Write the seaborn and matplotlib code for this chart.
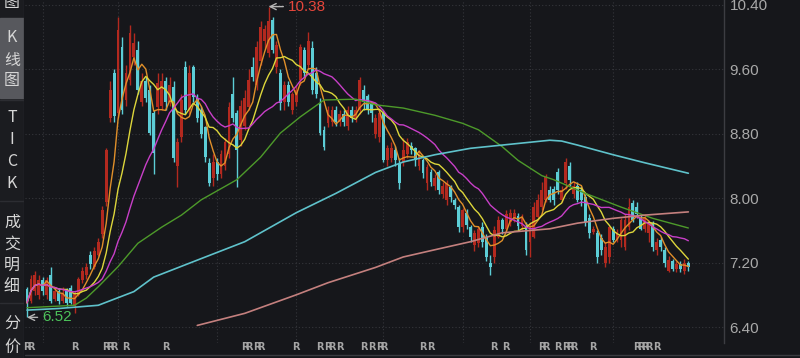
import numpy as np
import pandas as pd
import matplotlib
matplotlib.use('Agg')
import matplotlib.pyplot as plt
from matplotlib.patches import Rectangle
from matplotlib.lines import Line2D
import seaborn as sns

# K线 데이터 (open / high / low / close), 차트에서 눈으로 읽은 값
opens = [6.87, 6.72, 6.85, 6.80, 6.98, 6.80, 7.05, 6.75, 6.85, 6.72, 6.85, 6.88, 6.66, 6.80, 6.98, 7.05,
         7.30, 7.15, 7.30, 7.55, 7.95, 9.00, 9.55, 9.06, 9.88, 9.22, 9.47, 9.75, 9.84, 9.20, 9.45, 9.34,
         9.06, 9.13, 9.15, 9.45, 9.20, 9.38, 8.40, 8.76, 9.63, 9.10, 9.63, 9.25, 9.10, 8.88, 8.44, 8.25,
         8.45, 8.30, 8.40, 8.55, 9.30, 9.06, 8.72, 8.90, 9.13, 9.63, 9.40, 9.70, 9.95, 9.80, 10.21, 9.63,
         9.55, 9.20, 9.40, 9.10, 9.20, 9.47, 9.84, 9.65, 9.86, 9.55, 9.18, 8.85, 8.94, 8.95, 9.10, 8.95,
         9.05, 8.90, 9.10, 9.00, 9.10, 9.35, 9.27, 9.18, 8.80, 8.76, 9.06, 8.47, 8.50, 8.60, 8.44, 8.45,
         8.55, 8.65, 8.62, 8.40, 8.47, 8.19, 8.33, 8.15, 8.33, 8.05, 7.98, 8.14, 7.98, 7.89, 7.64, 7.82,
         7.64, 7.42, 7.44, 7.64, 7.52, 7.20, 7.27, 7.52, 7.73, 7.62, 7.70, 7.75, 7.78, 7.65, 7.64, 7.45,
         7.52, 7.77, 7.89, 7.98, 8.10, 8.12, 8.33, 7.98, 8.19, 8.40, 8.05, 8.15, 8.10, 8.01, 7.76, 7.58,
         7.57, 7.50, 7.20, 7.27, 7.62, 7.48, 7.48, 7.39, 7.64, 7.94, 7.89, 7.75, 7.62, 7.57, 7.69, 7.36,
         7.48, 7.36, 7.10, 7.22, 7.12, 7.18, 7.10, 7.20]
highs = [6.90, 7.05, 7.10, 7.05, 7.02, 7.02, 7.15, 6.90, 6.88, 6.90, 6.88, 6.92, 6.85, 7.02, 7.15, 7.20,
         7.35, 7.40, 7.50, 7.90, 8.62, 9.45, 9.60, 10.25, 10.00, 9.65, 10.15, 10.05, 9.95, 9.55, 9.50, 9.40,
         9.10, 9.55, 9.55, 9.50, 9.50, 9.45, 8.75, 9.30, 9.70, 9.65, 9.66, 9.30, 9.15, 8.90, 8.50, 8.55,
         8.50, 8.60, 8.75, 9.20, 9.51, 9.10, 9.22, 9.35, 9.60, 9.75, 9.95, 10.20, 10.15, 10.38, 10.25, 9.95,
         9.60, 9.45, 9.45, 9.32, 9.40, 9.92, 9.88, 10.06, 9.95, 9.63, 9.25, 8.90, 9.15, 9.15, 9.15, 9.10,
         9.10, 9.15, 9.15, 9.15, 9.50, 9.40, 9.30, 9.20, 9.05, 9.10, 9.10, 8.66, 8.70, 8.65, 8.50, 8.75,
         8.75, 8.70, 8.64, 8.60, 8.50, 8.42, 8.36, 8.30, 8.35, 8.20, 8.22, 8.16, 8.00, 7.92, 7.88, 7.86,
         7.67, 7.60, 7.66, 7.70, 7.56, 7.30, 7.65, 7.78, 7.76, 7.85, 7.86, 7.86, 7.82, 7.80, 7.70, 7.70,
         7.95, 8.05, 8.20, 8.30, 8.15, 8.15, 8.38, 8.15, 8.50, 8.45, 8.20, 8.20, 8.15, 8.05, 7.80, 7.65,
         7.60, 7.55, 7.45, 7.66, 7.65, 7.62, 7.76, 7.80, 8.00, 7.98, 7.95, 7.80, 7.80, 7.72, 7.72, 7.50,
         7.52, 7.40, 7.28, 7.25, 7.22, 7.22, 7.25, 7.22]
lows = [6.52, 6.70, 6.80, 6.75, 6.80, 6.75, 6.70, 6.72, 6.68, 6.70, 6.66, 6.68, 6.57, 6.78, 6.95, 7.00,
        7.12, 7.12, 7.28, 7.50, 7.90, 8.95, 8.95, 9.00, 9.05, 9.15, 9.40, 9.65, 9.30, 9.15, 9.20, 8.78,
        8.30, 9.05, 9.10, 9.10, 9.15, 8.45, 8.14, 8.70, 9.05, 9.05, 9.20, 8.95, 8.75, 8.45, 8.15, 8.15,
        8.22, 8.25, 8.35, 8.50, 8.95, 8.14, 8.65, 8.85, 9.10, 9.45, 9.35, 9.65, 9.85, 9.75, 9.80, 9.55,
        9.10, 9.10, 9.15, 9.05, 9.15, 9.40, 9.50, 9.60, 9.30, 9.25, 8.78, 8.60, 8.88, 8.90, 8.90, 8.90,
        8.90, 8.85, 8.95, 8.95, 9.05, 9.10, 9.05, 8.95, 8.75, 8.70, 8.45, 8.40, 8.45, 8.40, 8.12, 8.40,
        8.50, 8.55, 8.40, 8.35, 8.25, 8.10, 8.15, 8.10, 8.05, 8.00, 7.92, 7.95, 7.86, 7.58, 7.58, 7.62,
        7.46, 7.35, 7.40, 7.40, 7.22, 7.05, 7.20, 7.50, 7.56, 7.58, 7.65, 7.70, 7.60, 7.60, 7.30, 7.27,
        7.50, 7.75, 7.85, 7.95, 7.95, 7.92, 8.05, 7.95, 8.12, 8.15, 8.00, 7.95, 7.90, 7.65, 7.50, 7.55,
        7.20, 7.30, 7.15, 7.20, 7.45, 7.45, 7.40, 7.36, 7.60, 7.70, 7.75, 7.60, 7.58, 7.45, 7.35, 7.30,
        7.35, 7.15, 7.08, 7.10, 7.08, 7.08, 7.06, 7.10]
closes = [6.70, 7.00, 7.05, 6.98, 6.85, 6.98, 6.72, 6.85, 6.72, 6.82, 6.70, 6.70, 6.82, 7.00, 7.10, 7.15,
          7.18, 7.35, 7.45, 7.85, 8.60, 9.35, 9.02, 10.09, 9.10, 9.55, 10.05, 9.93, 9.34, 9.45, 9.25, 8.81,
          8.56, 9.43, 9.45, 9.20, 9.40, 8.50, 8.70, 9.22, 9.10, 9.55, 9.26, 9.00, 8.80, 8.51, 8.19, 8.45,
          8.30, 8.55, 8.70, 9.13, 9.00, 8.60, 9.15, 9.25, 9.47, 9.50, 9.88, 10.13, 10.10, 10.20, 9.84, 9.90,
          9.18, 9.40, 9.20, 9.30, 9.35, 9.88, 9.55, 9.95, 9.34, 9.30, 8.81, 8.64, 9.10, 9.10, 8.95, 9.05,
          8.95, 9.10, 9.00, 9.10, 9.47, 9.20, 9.10, 9.06, 9.00, 9.06, 8.47, 8.62, 8.62, 8.47, 8.19, 8.60,
          8.70, 8.60, 8.47, 8.55, 8.31, 8.39, 8.20, 8.25, 8.10, 8.15, 8.19, 8.02, 7.92, 7.64, 7.85, 7.67,
          7.52, 7.57, 7.62, 7.45, 7.27, 7.14, 7.61, 7.73, 7.62, 7.80, 7.82, 7.82, 7.65, 7.75, 7.36, 7.64,
          7.89, 7.98, 8.10, 8.26, 7.98, 7.98, 8.10, 8.10, 8.45, 8.22, 8.15, 7.98, 7.98, 7.70, 7.57, 7.62,
          7.27, 7.36, 7.39, 7.64, 7.48, 7.58, 7.73, 7.73, 7.89, 7.73, 7.80, 7.62, 7.75, 7.69, 7.39, 7.45,
          7.40, 7.20, 7.23, 7.12, 7.18, 7.12, 7.20, 7.14]

# 장기 이동평균선 (그림에서 읽은 값, 봉 번호 기준)
ma60_idx = [0, 12, 15, 18, 23, 28, 34, 39, 44, 53, 59, 64, 69, 75, 83, 88, 95, 103, 110, 114, 120, 124,
            130, 133, 141, 150, 158, 167]
ma60_val = [6.64, 6.67, 6.76, 6.90, 7.15, 7.44, 7.64, 7.79, 7.98, 8.23, 8.51, 8.81, 9.01, 9.22, 9.23,
            9.16, 9.12, 9.03, 8.93, 8.85, 8.64, 8.47, 8.28, 8.23, 8.06, 7.89, 7.75, 7.63]
ma120_idx = [0, 8, 18, 27, 32, 44, 55, 68, 78, 88, 95, 103, 112, 120, 132, 135, 139, 148, 156, 167]
ma120_val = [6.61, 6.63, 6.67, 6.84, 7.02, 7.25, 7.46, 7.82, 8.06, 8.32, 8.45, 8.54, 8.62, 8.66, 8.72,
             8.71, 8.66, 8.54, 8.44, 8.31]
ma250_idx = [43, 55, 68, 76, 88, 95, 103, 112, 120, 132, 139, 148, 156, 167]
ma250_val = [6.42, 6.57, 6.80, 6.95, 7.14, 7.27, 7.36, 7.46, 7.57, 7.62, 7.69, 7.75, 7.79, 7.83]

price_ticks = [6.40, 7.20, 8.00, 8.80, 9.60, 10.40]
month_lines = [4, 23, 48, 68, 90, 110, 127, 148]
r_marks = [0, 1, 12, 20, 21, 22, 25, 35, 55, 56, 58, 59, 68, 74, 76, 77, 79, 85, 87, 89, 90, 100, 102,
           118, 121, 130, 131, 134, 136, 137, 138, 143, 154, 155, 156, 157, 159]

BG = '#16171b'
UP = '#b3291f'
DOWN = '#5ccdd6'
GRID = '#35363b'

sns.set_theme(style='dark', rc={'axes.facecolor': BG, 'figure.facecolor': BG})
plt.rcParams['font.family'] = ['Noto Sans CJK SC', 'DejaVu Sans']

df = pd.DataFrame({'o': opens, 'h': highs, 'l': lows, 'c': closes})
df['i'] = np.arange(len(df))
df['ma5'] = df['c'].rolling(5, min_periods=1).mean()
df['ma10'] = df['c'].rolling(10, min_periods=1).mean()
df['ma20'] = df['c'].rolling(20, min_periods=1).mean()

fig = plt.figure(figsize=(8, 3.58), dpi=100, facecolor=BG)
ax = fig.add_axes([25 / 800, 15 / 358, 699 / 800, 343 / 358])
ax.set_facecolor(BG)

# 그리드
for p in price_ticks:
    ax.axhline(p, color=GRID, lw=0.8, ls=(0, (1, 2)), zorder=0)
for m in month_lines:
    ax.axvline(m, color=GRID, lw=0.8, ls=(0, (1, 2)), zorder=0)

# 캔들
up = df['c'] >= df['o']
for mask, col in [(up, UP), (~up, DOWN)]:
    d = df[mask]
    ax.vlines(d['i'], d['l'], d['h'], color=col, lw=1.0, zorder=2)
    body = (d['c'] - d['o']).abs().clip(lower=0.015)
    ax.bar(d['i'], body, bottom=d[['o', 'c']].min(axis=1), width=0.72, color=col, lw=0, zorder=3)

# 이동평균선
lw = 1.0
sns.lineplot(x=df['i'], y=df['ma5'], ax=ax, color='#e08f2a', lw=lw, zorder=4)
sns.lineplot(x=df['i'], y=df['ma10'], ax=ax, color='#ddd63b', lw=lw, zorder=4)
sns.lineplot(x=df['i'], y=df['ma20'], ax=ax, color='#c83fc8', lw=lw, zorder=4)
sns.lineplot(x=ma60_idx, y=ma60_val, ax=ax, color='#4d9a2a', lw=lw, zorder=4)
sns.lineplot(x=ma120_idx, y=ma120_val, ax=ax, color='#5fc2cb', lw=lw + 0.2, zorder=4)
sns.lineplot(x=ma250_idx, y=ma250_val, ax=ax, color='#c4807e', lw=lw + 0.2, zorder=4)

ax.set_xlim(-0.5, 176)
ax.set_ylim(6.2015, 10.462)
ax.set_xlabel('')
ax.set_ylabel('')
ax.set_xticks([])
ax.yaxis.tick_right()
ax.set_yticks(price_ticks)
ax.set_yticklabels(['%.2f' % p for p in price_ticks], family='Liberation Sans', fontsize=11, color='#a9a9a9')
ax.tick_params(axis='y', length=0, pad=4)
for s in ['left', 'top', 'bottom']:
    ax.spines[s].set_visible(False)
ax.spines['right'].set_color('#3c3d42')
ax.spines['right'].set_linewidth(1.0)

# 최고 / 최저 표시
hi = int(np.argmax(highs))
lo = int(np.argmin(lows))
ax.annotate('%.2f' % highs[hi], xy=(hi, highs[hi]), xytext=(14, 0), textcoords='offset points',
            ha='left', va='center', color='#e5463b', fontsize=11, family='Liberation Sans',
            arrowprops=dict(arrowstyle='->', color='#b5b5b5', lw=1, shrinkA=1, shrinkB=0))
ax.annotate('%.2f' % lows[lo], xy=(lo, lows[lo]), xytext=(11, 0), textcoords='offset points',
            ha='left', va='center', color='#4cc25a', fontsize=11, family='Liberation Sans',
            arrowprops=dict(arrowstyle='->', color='#b5b5b5', lw=1, shrinkA=1, shrinkB=0))

# 하단 R 표시
for r in r_marks:
    ax.text(r, -0.013, 'R', transform=ax.get_xaxis_transform(), ha='center', va='center',
            fontsize=7, color='#a5a5a5', family='DejaVu Sans', fontweight='bold', clip_on=False)
fig.add_artist(Line2D([25 / 800, 1], [3.5 / 358, 3.5 / 358], color='#3a3b40', lw=1))

# 왼쪽 탭
sb = fig.add_axes([0, 0, 24 / 800, 1])
sb.set_xlim(0, 24)
sb.set_ylim(358, 0)
sb.axis('off')
sb.add_patch(Rectangle((0, 0), 24, 358, color='#1b1c20', zorder=0))
sb.add_patch(Rectangle((0, 18), 24, 80, color='#57585d', zorder=1))
for yy in [99.5, 200.5, 302.5]:
    sb.plot([0, 24], [yy, yy], color='#2c2d32', lw=1, zorder=2)
sb.plot([23.5, 23.5], [0, 358], color='#2a2b30', lw=1, zorder=2)
tabs = [('图', 2), ('K', 38), ('线', 60), ('图', 81), ('T', 118), ('I', 140), ('C', 162), ('K', 183),
        ('成', 222), ('交', 244), ('明', 265), ('细', 286), ('分', 324), ('价', 347)]
for ch, yy in tabs:
    sb.text(12, yy, ch, ha='center', va='center', fontsize=11.5, color='#d6d6d6', zorder=3)

fig.savefig('out.png', dpi=100, facecolor=BG)
